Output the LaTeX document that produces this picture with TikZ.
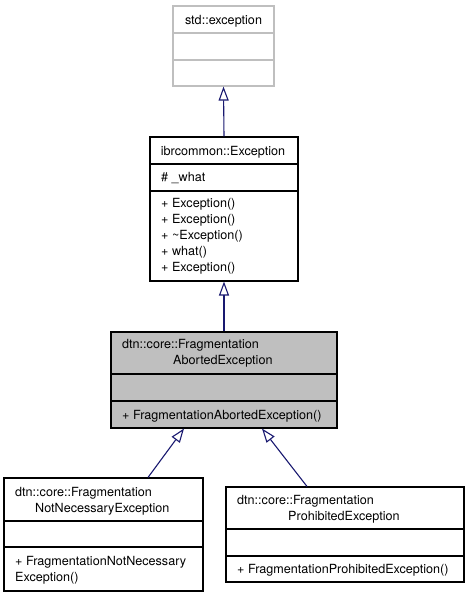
\documentclass[tikz,border=0pt]{standalone}
\usepackage{fontspec}
\setmainfont{TeX Gyre Heros}
\usetikzlibrary{arrows.meta}
\definecolor{navyc}{HTML}{191970}
\definecolor{lgray}{HTML}{BFBFBF}
\definecolor{fillg}{HTML}{BFBFBF}
\begin{document}
\begin{tikzpicture}[x=1pt,y=-1pt,
  box/.style={draw=black, line width=1.1pt, inner sep=0pt},
  gbox/.style={draw=lgray, line width=1.1pt, inner sep=0pt},
  divl/.style={draw=black, line width=1.1pt},
  gdivl/.style={draw=lgray, line width=1.1pt},
  txt/.style={anchor=west, inner sep=0pt, font=\fontsize{12.6}{16}\selectfont, text height=9pt, text depth=0pt},
  ctxt/.style={anchor=center, inner sep=0pt, font=\fontsize{12.6}{16}\selectfont, text height=9pt, text depth=0pt},
  inh/.style={draw=navyc, line width=1.1pt, -{Triangle[open,length=14pt,width=10pt]}}]
\useasboundingbox (0,0) rectangle (469,597);
% std::exception
\node[gbox, minimum width=101pt, minimum height=80pt] (std) at (223.5,46) {};
\draw[gdivl] (173,33) -- (274,33);
\draw[gdivl] (173,60) -- (274,60);
\node[ctxt] (stdt) at (223.5,20) {std::exception};
% ibrcommon::Exception
\node[box, minimum width=148pt, minimum height=144pt] (ibr) at (224,209) {};
\draw[divl] (150,164) -- (298,164);
\draw[divl] (150,191) -- (298,191);
\node[ctxt] (ibrt) at (223,151) {ibrcommon::Exception};
\node[txt] (ibra) at (161,177) {\# \_what};
\node[txt] (ibrm1) at (161,203) {+ Exception()};
\node[txt] (ibrm2) at (161,219) {+ Exception()};
\node[txt] (ibrm3) at (161,235) {+ \textasciitilde Exception()};
\node[txt] (ibrm4) at (161,251) {+ what()};
\node[txt] (ibrm5) at (161,267) {+ Exception()};
% FragmentationAbortedException
\node[box, fill=fillg, minimum width=226pt, minimum height=96pt] (abort) at (224,380) {};
\draw[divl] (111,374) -- (337,374);
\draw[divl] (111,401) -- (337,401);
\node[txt] (abt1) at (122,344) {dtn::core::Fragmentation};
\node[txt] (abt2) at (173,360) {AbortedException};
\node[txt] (abm) at (122,415) {+ FragmentationAbortedException()};
% FragmentationNotNecessaryException
\node[box, minimum width=199pt, minimum height=113pt] (notn) at (103.5,534.5) {};
\draw[divl] (4,521) -- (203,521);
\draw[divl] (4,547) -- (203,547);
\node[txt] (nnt1) at (15,492) {dtn::core::Fragmentation};
\node[txt] (nnt2) at (35,508) {NotNecessaryException};
\node[txt] (nnm1) at (15,561) {+ FragmentationNotNecessary};
\node[txt] (nnm2) at (15,577) {Exception()};
% FragmentationProhibitedException
\node[box, minimum width=238pt, minimum height=95pt] (proh) at (345,534.5) {};
\draw[divl] (226,529) -- (464,529);
\draw[divl] (226,556) -- (464,556);
\node[txt] (prt1) at (237,500) {dtn::core::Fragmentation};
\node[txt] (prt2) at (288,516) {ProhibitedException};
\node[txt] (prm) at (237,569) {+ FragmentationProhibitedException()};
% inheritance
\draw[inh] (ibr.north) -- (std.south);
\draw[inh] (abort.north) -- (ibr.south);
\draw[inh] ([xshift=44.5pt]notn.north) -- ([xshift=-40pt]abort.south);
\draw[inh] ([xshift=-38pt]proh.north) -- ([xshift=38pt]abort.south);
\end{tikzpicture}
\end{document}
